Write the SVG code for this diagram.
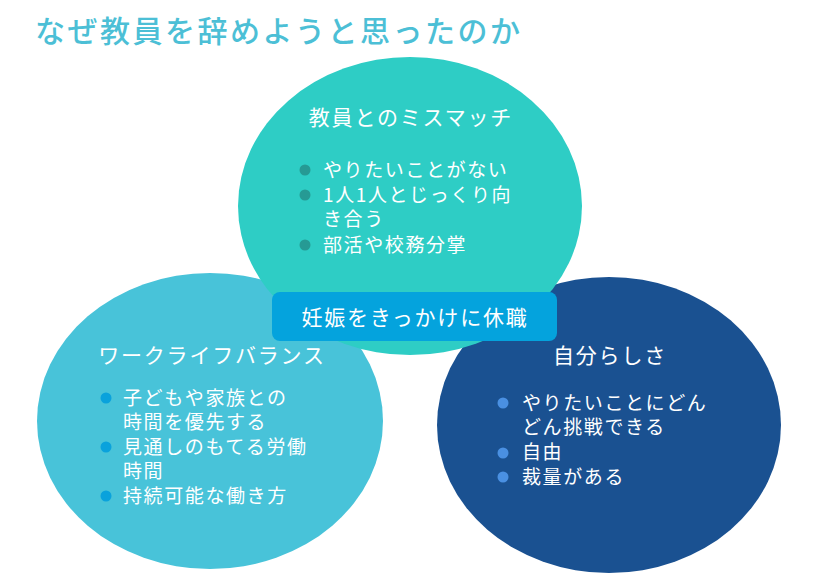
<svg xmlns="http://www.w3.org/2000/svg" width="818" height="580" viewBox="0 0 818 580">
<style>
text{font-family:"Noto Sans CJK JP","Noto Sans",sans-serif;fill:#fff;font-weight:400}
.title{font-size:30px;letter-spacing:2.5px;fill:#4cbfd6;font-weight:500}
.h{font-size:21px;letter-spacing:1.8px;text-anchor:middle}
.b{font-size:19px;letter-spacing:1.6px}
.box{font-size:21px;letter-spacing:1.8px;text-anchor:middle}
</style>
<rect width="818" height="580" fill="#fff"/>
<text class="title" x="35" y="42">なぜ教員を辞めようと思ったのか</text>
<g id="node-wlb">
<ellipse cx="210" cy="421" rx="173" ry="148" fill="#48c3d9"/>
<text class="h" x="212" y="362.5">ワークライフバランス</text>
<g fill="#0aa2dc"><circle cx="106" cy="398" r="5.5"/><circle cx="106" cy="447" r="5.5"/><circle cx="106" cy="496" r="5.5"/></g>
<text class="b" x="123" y="404.5">子どもや家族との</text>
<text class="b" x="123" y="429">時間を優先する</text>
<text class="b" x="123" y="453.5">見通しのもてる労働</text>
<text class="b" x="123" y="478">時間</text>
<text class="b" x="123" y="502.5">持続可能な働き方</text>
</g>
<g id="node-self">
<ellipse cx="609" cy="425" rx="172" ry="148" fill="#1a5191"/>
<text class="h" x="610" y="362.5">自分らしさ</text>
<g fill="#4a90e2"><circle cx="503" cy="403" r="5.5"/><circle cx="503" cy="453" r="5.5"/><circle cx="503" cy="477" r="5.5"/></g>
<text class="b" x="522" y="409.5">やりたいことにどん</text>
<text class="b" x="522" y="434">どん挑戦できる</text>
<text class="b" x="522" y="459">自由</text>
<text class="b" x="522" y="483.5">裁量がある</text>
</g>
<g id="node-mismatch">
<ellipse cx="410" cy="206" rx="172" ry="149" fill="#2ecdc5"/>
<text class="h" x="411" y="124.5">教員とのミスマッチ</text>
<g fill="#269a94"><circle cx="305" cy="170" r="5.5"/><circle cx="305" cy="195" r="5.5"/><circle cx="305" cy="245" r="5.5"/></g>
<text class="b" x="323" y="176.5">やりたいことがない</text>
<text class="b" x="323" y="201.5">1人1人とじっくり向</text>
<text class="b" x="323" y="226">き合う</text>
<text class="b" x="323" y="251.5">部活や校務分掌</text>
</g>
<g id="node-leave">
<rect x="272" y="292" width="285" height="49" rx="8" fill="#04a3dd"/>
<text class="box" x="415" y="324.5">妊娠をきっかけに休職</text>
</g>
<g id="connectors"/>
</svg>
